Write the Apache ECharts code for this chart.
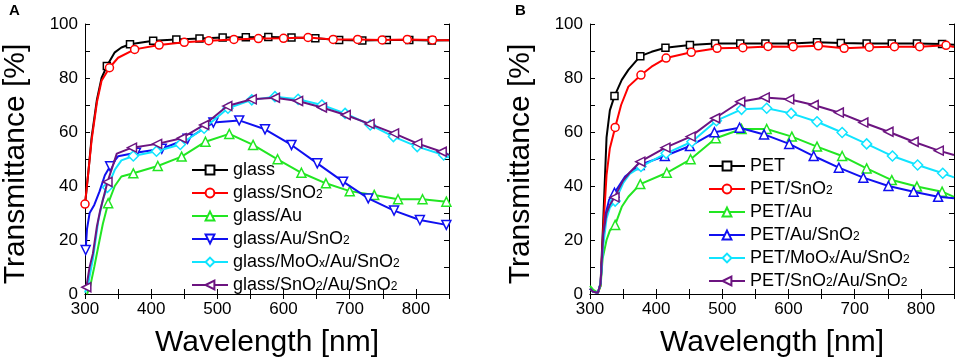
<!DOCTYPE html>
<html>
<head>
<meta charset="utf-8">
<script src="https://cdn.jsdelivr.net/npm/echarts@6/dist/echarts.min.js"></script>
<style>
  html, body { margin: 0; padding: 0; background: #fff; }
  #board { width: 957px; height: 363px; }
</style>
</head>
<body>
<div id="board"></div>
<script>
// wavelength [nm], transmittance [%]; "Mk" = points carrying a marker, "Ln" = line-only points
const xTicks = [300, 400, 500, 600, 700, 800];

// panel A (glass)
const aGlassMk = [[333,84.4],[368,92.5],[403,93.8],[438,94.3],[473,94.6],[508,95.0],[543,95.1],[577,95.2],[612,95.0],[648,94.7],[684,94.1],[719,93.9],[756,94.1],[790,94.1],[824,93.9]];
const aGlassLn = [[300,33],[305,45],[310,58],[318,72],[325,80],[345,89.5],[355,91.3],[850,94.0]];
const aSnMk = [[300,33.3],[337,83.8],[375,90.6],[412,92.2],[450,93.2],[487,93.8],[525,94.3],[562,94.6],[600,94.7],[637,95.0],[675,94.3],[712,94.3],[749,94.1],[787,94.3],[825,94.1]];
const aSnLn = [[305,45],[310,57],[318,71],[325,79],[350,87.5],[850,94.0]];
const aAuMk = [[335,33.6],[373,44.7],[410,47.4],[446,50.9],[482,56.4],[518,59.3],[554,55.2],[591,49.9],[627,44.9],[664,41.0],[700,38.1],[737,36.7],[773,35.1],[810,35.1],[846,34.2]];
const aAuLn = [[303,0],[308,3],[314,10],[320,17.5],[327,26],[345,40],[355,43.5],[850,34.2]];
const aAuSnMk = [[301,16.3],[338,47.3],[377,52.3],[416,53.8],[455,57.5],[494,63.5],[533,64.3],[572,61.0],[612,55.2],[651,48.4],[690,41.6],[728,35.4],[767,30.9],[806,27.4],[846,25.6]];
const aAuSnLn = [[303,24],[307,30],[314,33],[322,38],[330,44],[350,51],[850,25.5]];
const aMoMk = [[334,39.5],[373,51.1],[408,52.9],[444,55.4],[480,61.4],[516,68.8],[552,71.9],[587,73.1],[622,72.1],[658,70.0],[693,66.9],[731,62.6],[766,58.3],[802,54.6],[842,51.5]];
const aMoLn = [[300,0.5],[305,4],[312,13],[320,27],[327,35],[345,46],[355,49.5],[850,50.5]];
const aSnAuMk = [[302,2.5],[334,41.5],[371,54.2],[409,55.6],[446,57.7],[480,62.6],[515,69.6],[552,72.1],[587,72.7],[622,71.5],[658,69.1],[694,66.3],[730,63.0],[767,59.5],[802,55.8],[839,52.7]];
const aSnAuLn = [[307,10],[312,15],[318,25],[323,31],[348,52],[850,51.5]];

// panel B (PET)
const bPetMk = [[337,73.3],[376,88.1],[414,91.2],[451,92.2],[489,92.8],[527,92.8],[565,92.8],[605,92.8],[643,93.2],[679,93.0],[718,92.8],[756,92.8],[794,92.8],[832,92.6]];
const bPetLn = [[300,2],[305,0.8],[312,0.5],[316,4],[320,27],[325,58],[330,68],[348,79.3],[358,83],[393,89.7],[850,92.3]];
const bSnMk = [[338,61.7],[377,81.1],[415,87.4],[453,89.5],[492,91.0],[531,91.2],[569,91.7],[607,91.6],[645,91.9],[684,91.0],[722,91.4],[760,91.6],[798,91.6],[838,92.1]];
const bSnLn = [[300,2],[305,0.8],[312,0.5],[316,3],[320,24],[325,44],[330,54],[347,70],[358,76.8],[393,84.2],[850,91.5]];
const bAuMk = [[338,25.6],[376,40.7],[416,44.9],[452,49.9],[490,57.7],[529,61.1],[567,61.1],[605,58.3],[643,54.6],[681,51.1],[718,46.5],[756,42.2],[794,39.8],[832,37.9]];
const bAuLn = [[300,3],[305,1.5],[312,0.5],[316,3],[319,13],[325,20],[330,23.5],[348,32.3],[358,36],[850,36]];
const bAuSnMk = [[337,37.5],[375,47.8],[413,51.1],[451,54.8],[488,59.9],[526,61.6],[563,59.1],[601,55.6],[638,51.1],[676,46.8],[713,43.1],[751,40.0],[789,37.9],[826,36.0]];
const bAuSnLn = [[300,2],[305,0.8],[312,0.5],[316,4],[320,20],[324,30],[329,35],[353,43.5],[850,35.5]];
const bMoMk = [[338,34.4],[377,47.2],[415,52.1],[454,56.4],[491,64.2],[529,68.4],[567,68.8],[604,66.9],[643,63.8],[681,59.8],[718,55.6],[757,51.1],[795,47.8],[833,44.7]];
const bMoLn = [[300,2],[305,0.8],[312,0.5],[316,4],[320,18],[325,28],[330,32],[350,41],[360,44.5],[850,43.2]];
const bSnAuMk = [[337,35.8],[376,49.0],[414,54.2],[452,58.3],[489,65.1],[527,71.2],[564,72.8],[601,72.1],[638,70.0],[676,67.2],[713,63.5],[751,60.1],[789,56.4],[827,53.1]];
const bSnAuLn = [[300,2],[305,0.8],[312,0.5],[316,4],[320,22],[325,30],[330,33],[350,42],[360,45],[850,51.5]];

var font = 'Liberation Sans, Arial, sans-serif';

// black, red, green, blue, cyan, purple
var colors = ['#000000', '#ff0000', '#22e622', '#1010f0', '#10e4ff', '#6c1480'];
var symbols = ['rect', 'circle', 'triangle', 'triangle', 'diamond', 'triangle'];
var sizes = [7, 8, 9, 9, 10, 9];
var rotA = [0, 0, 0, 180, 0, 90];
var rotB = [0, 0, 0, 0, 0, 90];

function merge(mk, ln){
  var pts = mk.map(function(p){ return {value: p}; })
    .concat(ln.map(function(p){ return {value: p, symbol: 'none'}; }));
  pts.sort(function(a, b){ return a.value[0] - b.value[0]; });
  return pts;
}

function makeSeries(name, idx, mk, ln, axis, rot){
  return {
    name: name,
    type: 'line',
    xAxisIndex: axis,
    yAxisIndex: axis,
    data: merge(mk, ln),
    symbol: symbols[idx],
    symbolSize: sizes[idx],
    symbolRotate: rot,
    lineStyle: {color: colors[idx], width: 2},
    itemStyle: {color: '#ffffff', borderColor: colors[idx], borderWidth: 1.5},
    emphasis: {disabled: true},
    z: 2 + idx
  };
}

function xAxes(grid){
  var base = {
    type: 'value', gridIndex: grid, min: 300, max: 850, interval: 50,
    axisLine: {lineStyle: {color: '#000', width: 1}},
    axisTick: {inside: true, length: 5, lineStyle: {color: '#000'}},
    splitLine: {show: false}
  };
  return [
    Object.assign({}, base, {
      position: 'bottom',
      name: 'Wavelength [nm]', nameLocation: 'middle', nameGap: 34,
      nameTextStyle: {fontSize: 30, fontFamily: font, color: '#000'},
      axisLabel: {fontSize: 17, fontFamily: font, color: '#000', margin: 7,
        formatter: function(v){ return xTicks.indexOf(v) >= 0 ? String(v) : ''; }}
    }),
    Object.assign({}, base, {position: 'top', axisLabel: {show: false}})
  ];
}

function yAxes(grid){
  var base = {
    type: 'value', gridIndex: grid, min: 0, max: 100, interval: 10,
    axisLine: {show: true, lineStyle: {color: '#000', width: 1}},
    axisTick: {inside: true, length: 5, lineStyle: {color: '#000'}},
    splitLine: {show: false}
  };
  return [
    Object.assign({}, base, {
      position: 'left',
      name: 'Transmittance [%]', nameLocation: 'middle', nameGap: 54,
      nameTextStyle: {fontSize: 30, fontFamily: font, color: '#000', padding: [0, 10, 0, 0]},
      axisLabel: {fontSize: 17, fontFamily: font, color: '#000', margin: 7,
        formatter: function(v){ return v % 20 === 0 ? String(v) : ''; }}
    }),
    Object.assign({}, base, {position: 'right', axisLabel: {show: false}})
  ];
}

function fmt(name){
  return name.replace(/O2/g, 'O{s|2}').replace(/Ox/g, 'O{s|x}');
}

function legend(names, left, top){
  return {
    data: names, orient: 'vertical', left: left, top: top,
    itemWidth: 36, itemHeight: 11, itemGap: 3,
    selectedMode: false, formatter: fmt,
    textStyle: {fontSize: 18, fontFamily: font, color: '#000', lineHeight: 20,
      rich: {s: {fontSize: 12, fontFamily: font, color: '#000', lineHeight: 20, verticalAlign: 'bottom', padding: [0, 0, 2, 0]}}}
  };
}

var namesA = ['glass', 'glass/SnO2', 'glass/Au', 'glass/Au/SnO2', 'glass/MoOx/Au/SnO2', 'glass/SnO2/Au/SnO2'];
var namesB = ['PET', 'PET/SnO2', 'PET/Au', 'PET/Au/SnO2', 'PET/MoOx/Au/SnO2', 'PET/SnO2/Au/SnO2'];

var dataA = [[aGlassMk, aGlassLn], [aSnMk, aSnLn], [aAuMk, aAuLn], [aAuSnMk, aAuSnLn], [aMoMk, aMoLn], [aSnAuMk, aSnAuLn]];
var dataB = [[bPetMk, bPetLn], [bSnMk, bSnLn], [bAuMk, bAuLn], [bAuSnMk, bAuSnLn], [bMoMk, bMoLn], [bSnAuMk, bSnAuLn]];

var series = [];
// draw order: lower curves first, black/red on top as in the figure
[3, 2, 4, 5, 1, 0].forEach(function(i){
  series.push(makeSeries(namesA[i], i, dataA[i][0], dataA[i][1], 0, rotA[i]));
});
[3, 2, 4, 5, 1, 0].forEach(function(i){
  series.push(makeSeries(namesB[i], i, dataB[i][0], dataB[i][1], 2, rotB[i]));
});

var option = {
  backgroundColor: '#fff',
  animation: false,
  grid: [
    {left: 85, top: 24, width: 364, height: 270},
    {left: 590, top: 24, width: 364, height: 270}
  ],
  xAxis: xAxes(0).concat(xAxes(1)),
  yAxis: yAxes(0).concat(yAxes(1)),
  legend: [legend(namesA, 186, 155), legend(namesB, 703, 151)],
  graphic: [
    {type: 'text', left: 9, top: 3, style: {text: 'A', fontSize: 15, fontWeight: 'bold', fontFamily: font, fill: '#000'}},
    {type: 'text', left: 515, top: 3, style: {text: 'B', fontSize: 15, fontWeight: 'bold', fontFamily: font, fill: '#000'}}
  ],
  series: series
};

var myChart = echarts.init(document.getElementById('board'));
myChart.setOption(option);
</script>
</body>
</html>
